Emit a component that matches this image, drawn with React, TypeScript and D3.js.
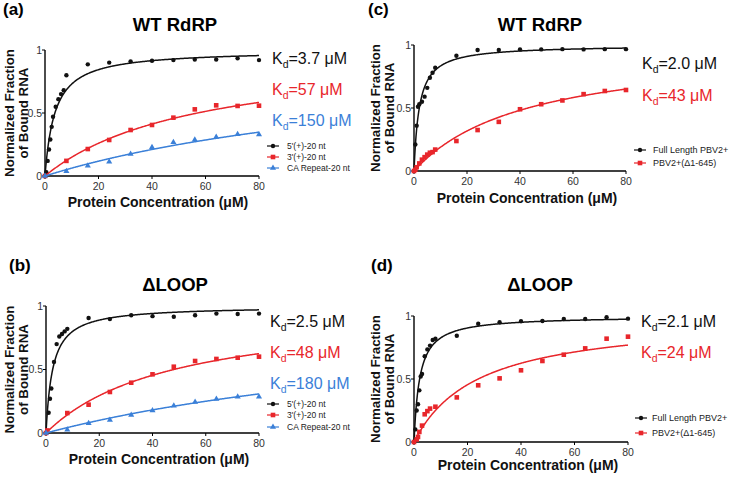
import React from 'react';
import * as d3 from 'd3';

const FONT = "'Liberation Sans', Arial, Helvetica, sans-serif";
const BLACK = '#111111';
const RED = '#e8262b';
const BLUE = '#3b80d8';

// ---------- data ----------
const xTicks = [0, 20, 40, 60, 80];
const yTicks = [0, 0.5, 1];
const yTickLabels = ['0', '0.5', '1'];

// (a) WT RdRP
const aConc5p = [0, 0.5, 1, 1.5, 2, 2.5, 3, 4, 5, 6, 7, 8, 16, 24, 32, 40, 48, 56, 64, 72, 80];
const aBound5p = [0, 0.03, 0.12, 0.21, 0.29, 0.39, 0.47, 0.55, 0.61, 0.65, 0.68, 0.8, 0.886, 0.9, 0.91, 0.915, 0.92, 0.925, 0.925, 0.935, 0.92];
const aConc3p = [0, 8, 16, 24, 32, 40, 48, 56, 64, 72, 80];
const aBound3p = [0, 0.12, 0.214, 0.286, 0.365, 0.405, 0.463, 0.529, 0.561, 0.556, 0.558];
const aConcCA = [0, 8, 16, 24, 32, 40, 48, 56, 64, 72, 80];
const aBoundCA = [0, 0.037, 0.082, 0.113, 0.175, 0.228, 0.267, 0.288, 0.31, 0.331, 0.33];
const aKd = [3.7, 57, 150];
const aKdLabels = ['3.7', '57', '150'];

// (b) ΔLOOP
const bConc5p = [0, 1, 1.5, 2, 3, 4, 5, 6, 7, 8, 16, 24, 32, 40, 48, 56, 64, 72, 80];
const bBound5p = [0, 0.16, 0.27, 0.35, 0.56, 0.7, 0.76, 0.78, 0.8, 0.82, 0.905, 0.897, 0.927, 0.92, 0.915, 0.927, 0.94, 0.937, 0.94];
const bConc3p = [0, 0.5, 8, 16, 24, 32, 40, 48, 56, 64, 72, 80];
const bBound3p = [0, 0.02, 0.157, 0.223, 0.323, 0.396, 0.462, 0.522, 0.567, 0.583, 0.593, 0.601];
const bConcCA = [0, 8, 16, 24, 32, 40, 48, 56, 64, 72, 80];
const bBoundCA = [0, 0.026, 0.076, 0.102, 0.142, 0.178, 0.215, 0.244, 0.268, 0.286, 0.286];
const bKd = [2.5, 48, 180];
const bKdLabels = ['2.5', '48', '180'];

// (c) WT RdRP
const cConcFull = [0, 0.5, 1, 1.5, 2, 3, 4, 5, 6, 7, 8, 16, 24, 32, 40, 48, 56, 64, 72, 80];
const cBoundFull = [0, 0.21, 0.36, 0.51, 0.53, 0.55, 0.59, 0.66, 0.74, 0.78, 0.82, 0.915, 0.96, 0.96, 0.965, 0.965, 0.967, 0.965, 0.967, 0.967];
const cConcDel = [0, 0.5, 1, 2, 3, 4, 5, 6, 7, 8, 16, 24, 32, 40, 48, 56, 64, 72, 80];
const cBoundDel = [0, 0.01, 0.03, 0.06, 0.09, 0.11, 0.13, 0.145, 0.15, 0.17, 0.238, 0.325, 0.39, 0.49, 0.53, 0.56, 0.61, 0.635, 0.643];
const cKd = [2.0, 43];
const cKdLabels = ['2.0', '43'];

// (d) ΔLOOP
const dConcFull = [0, 0.5, 1, 1.5, 2, 2.5, 3, 4, 5, 6, 7, 8, 16, 24, 32, 40, 48, 56, 64, 72, 80];
const dBoundFull = [0, 0.1, 0.25, 0.3, 0.41, 0.52, 0.54, 0.68, 0.735, 0.765, 0.81, 0.82, 0.843, 0.939, 0.95, 0.958, 0.96, 0.976, 0.976, 0.99, 0.979];
const dConcDel = [0, 1, 1.5, 2, 3, 4, 5, 6, 8, 16, 24, 32, 40, 48, 56, 64, 72, 80];
const dBoundDel = [0, 0.02, 0.04, 0.08, 0.13, 0.22, 0.245, 0.265, 0.28, 0.354, 0.45, 0.505, 0.569, 0.643, 0.693, 0.743, 0.82, 0.836];
const dKd = [2.1, 24];
const dKdLabels = ['2.1', '24'];

const namesRNA = ["5'(+)-20 nt", "3'(+)-20 nt", 'CA Repeat-20 nt'];
const namesProt = ['Full Length PBV2+', 'PBV2+(\u03941-645)'];

type Shape = 'circle' | 'square' | 'triangle';
interface Series { conc: number[]; bound: number[]; kd: number; kdLabel: string; color: string; shape: Shape; name: string; }
interface PanelCfg {
  tag: string; tagX: number; tagY: number;
  title: string; titleX: number; titleY: number;
  x0: number; x1: number; y0: number; y1: number;
  yl1: number; yl2: number; xlX: number; xlY: number;
  kdX: number; kdY: number[];
  legMX: number; legTX: number; legY: number[]; legFont: number;
  series: Series[];
}

const mk = (conc: number[][], bound: number[][], kd: number[], kdl: string[], colors: string[], shapes: Shape[], names: string[]): Series[] =>
  conc.map((c, i) => ({ conc: c, bound: bound[i], kd: kd[i], kdLabel: kdl[i], color: colors[i], shape: shapes[i], name: names[i] }));

const panels: PanelCfg[] = [
  {
    tag: '(a)', tagX: 3, tagY: 15, title: 'WT RdRP', titleX: 175, titleY: 31,
    x0: 45, x1: 259, y0: 176, y1: 50, yl1: 14, yl2: 28, xlX: 158, xlY: 207,
    kdX: 272, kdY: [64, 95, 126], legMX: 273, legTX: 287, legY: [146, 157, 168], legFont: 8.5,
    series: mk([aConc5p, aConc3p, aConcCA], [aBound5p, aBound3p, aBoundCA], aKd, aKdLabels, [BLACK, RED, BLUE], ['circle', 'square', 'triangle'], namesRNA),
  },
  {
    tag: '(b)', tagX: 9, tagY: 271, title: '\u0394LOOP', titleX: 175, titleY: 291,
    x0: 46, x1: 259, y0: 433, y1: 306, yl1: 14, yl2: 28, xlX: 159, xlY: 464,
    kdX: 270, kdY: [327, 358, 389], legMX: 273, legTX: 287, legY: [404, 415, 427], legFont: 8.5,
    series: mk([bConc5p, bConc3p, bConcCA], [bBound5p, bBound3p, bBoundCA], bKd, bKdLabels, [BLACK, RED, BLUE], ['circle', 'square', 'triangle'], namesRNA),
  },
  {
    tag: '(c)', tagX: 368, tagY: 15, title: 'WT RdRP', titleX: 540, titleY: 31,
    x0: 414, x1: 626, y0: 171, y1: 45, yl1: 380, yl2: 394, xlX: 527, xlY: 203,
    kdX: 642, kdY: [69, 101], legMX: 640, legTX: 653, legY: [150, 163], legFont: 9,
    series: mk([cConcFull, cConcDel], [cBoundFull, cBoundDel], cKd, cKdLabels, [BLACK, RED], ['circle', 'square'], namesProt),
  },
  {
    tag: '(d)', tagX: 371, tagY: 271, title: '\u0394LOOP', titleX: 540, titleY: 291,
    x0: 414, x1: 628, y0: 442, y1: 316, yl1: 380, yl2: 394, xlX: 528, xlY: 470,
    kdX: 641, kdY: [327, 358], legMX: 641, legTX: 652, legY: [418, 433], legFont: 9,
    series: mk([dConcFull, dConcDel], [dBoundFull, dBoundDel], dKd, dKdLabels, [BLACK, RED], ['circle', 'square'], namesProt),
  },
];

function Marker({ shape, cx, cy, color }: { shape: Shape; cx: number; cy: number; color: string }) {
  if (shape === 'circle') return <circle cx={cx} cy={cy} r={2.2} fill={color} />;
  if (shape === 'square') return <rect x={cx - 2.3} y={cy - 2.3} width={4.6} height={4.6} fill={color} />;
  const path = d3.symbol().type(d3.symbolTriangle).size(16)() || '';
  return <path d={path} transform={`translate(${cx},${cy})`} fill={color} />;
}

function Panel({ p }: { p: PanelCfg }) {
  const x = d3.scaleLinear().domain([0, 80]).range([p.x0, p.x1]);
  const y = d3.scaleLinear().domain([0, 1]).range([p.y0, p.y1]);
  const fitX = d3.range(0, 80.001, 0.25);
  const yMid = (p.y0 + p.y1) / 2;
  return (
    <g fontFamily={FONT}>
      <text x={p.tagX} y={p.tagY} fontSize={17} fontWeight="bold" fill="#000">{p.tag}</text>
      <text x={p.titleX} y={p.titleY} fontSize={18.5} fontWeight="bold" textAnchor="middle" fill="#000">{p.title}</text>
      <text transform={`translate(${p.yl1},${yMid}) rotate(-90)`} fontSize={13.3} fontWeight="bold" textAnchor="middle" fill="#111">Normalized Fraction</text>
      <text transform={`translate(${p.yl2},${yMid}) rotate(-90)`} fontSize={13.3} fontWeight="bold" textAnchor="middle" fill="#111">of Bound RNA</text>
      <text x={p.xlX} y={p.xlY} fontSize={14} fontWeight="bold" textAnchor="middle" fill="#111">Protein Concentration (μM)</text>

      {/* axes */}
      <line x1={x(0)} x2={x(80)} y1={y(0)} y2={y(0)} stroke="#000" strokeWidth={1.4} />
      <line x1={x(0)} x2={x(0)} y1={y(0)} y2={y(1)} stroke="#000" strokeWidth={1.4} />
      {xTicks.map(t => (
        <g key={'x' + t}>
          <line x1={x(t)} x2={x(t)} y1={y(0)} y2={y(0) + 3} stroke="#000" strokeWidth={1} />
          <text x={x(t)} y={y(0) + 14} fontSize={10.5} textAnchor="middle" fill="#333">{t}</text>
        </g>
      ))}
      {yTicks.map((t, i) => (
        <g key={'y' + t}>
          <line x1={x(0) - 3} x2={x(0)} y1={y(t)} y2={y(t)} stroke="#000" strokeWidth={1} />
          <text x={x(0) - 3} y={y(t) + 3.5} fontSize={10.5} textAnchor="end" fill="#333">{yTickLabels[i]}</text>
        </g>
      ))}

      {p.series.map((s, si) => {
        const line = d3.line<number>().x(c => x(c)).y(c => y(c / (s.kd + c)));
        return (
          <g key={si}>
            <path d={line(fitX) || ''} fill="none" stroke={s.color} strokeWidth={1.5} />
            {s.conc.map((c, i) => <Marker key={i} shape={s.shape} cx={x(c)} cy={y(s.bound[i])} color={s.color} />)}
            <text x={p.kdX} y={p.kdY[si]} fontSize={16} fill={s.color}>
              K<tspan fontSize={10.5} dy={4}>d</tspan><tspan dy={-4}>={s.kdLabel} μM</tspan>
            </text>
            <line x1={p.legMX - 6} x2={p.legMX + 6} y1={p.legY[si]} y2={p.legY[si]} stroke={s.color} strokeWidth={1.2} />
            <Marker shape={s.shape} cx={p.legMX} cy={p.legY[si]} color={s.color} />
            <text x={p.legTX} y={p.legY[si] + 3} fontSize={p.legFont} fill="#222">{s.name}</text>
          </g>
        );
      })}
    </g>
  );
}

export default function App() {
  return (
    <svg width={730} height={477} style={{ position: 'absolute', left: 0, top: 0, background: '#fff' }}>
      <rect width={730} height={477} fill="#fff" />
      {panels.map((p, i) => <Panel key={i} p={p} />)}
    </svg>
  );
}
